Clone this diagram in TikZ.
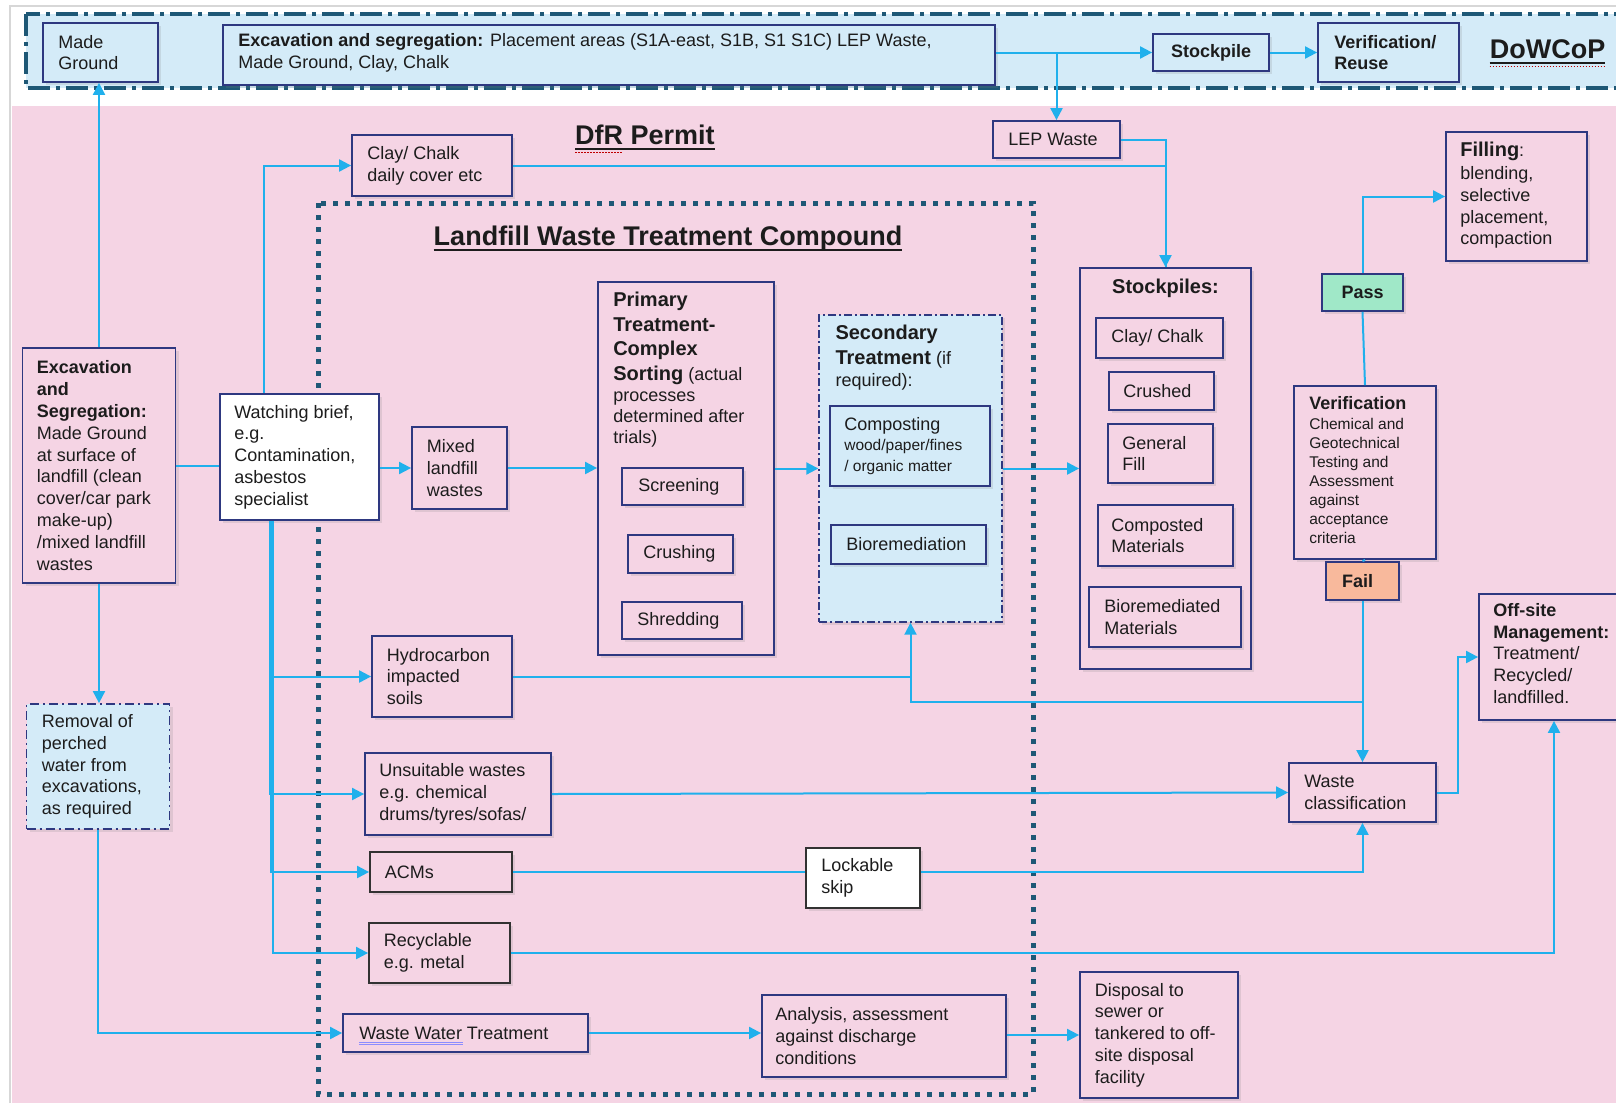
\documentclass[tikz,border=0pt]{standalone}
\usepackage{fontspec}
\setmainfont{Liberation Sans}
\usetikzlibrary{arrows.meta,shadows,calc}
\definecolor{pinkbg}{RGB}{245,212,228}
\definecolor{lblue}{RGB}{212,235,248}
\definecolor{navy}{RGB}{46,56,128}
\definecolor{tealb}{RGB}{30,88,118}
\definecolor{cline}{RGB}{32,176,236}
\definecolor{mint}{RGB}{160,232,200}
\definecolor{salmon}{RGB}{248,185,156}
\definecolor{txtc}{RGB}{28,28,28}
\definecolor{darkb}{RGB}{50,50,50}
\definecolor{framegray}{RGB}{215,215,215}
\newcommand\myfnorm{\fontsize{18}{21.8}\selectfont}
\newcommand\myfsmall{\fontsize{15.5}{19}\selectfont}
\newcommand\myfhead{\fontsize{20}{24}\selectfont\bfseries}
\newcommand\myftitle{\fontsize{27}{32}\selectfont\bfseries}
\tikzset{
  bx/.style={draw=navy, line width=1.8pt, fill=pinkbg, inner sep=0pt,
    drop shadow={shadow xshift=3pt, shadow yshift=-3pt, opacity=0.18}},
  bxblue/.style={bx, fill=lblue},
  bxwhite/.style={bx, fill=white},
  bxdark/.style={bx, draw=darkb},
  dashdot/.style={dash pattern=on 9pt off 4pt on 2pt off 4pt},
  txt/.style={inner sep=0pt, align=left, font=\myfnorm, text=txtc},
  btxt/.style={txt, font=\myfnorm\bfseries},
  ttl/.style={inner sep=0pt, font=\myftitle, text=txtc},
  conn/.style={draw=cline, line width=2pt},
  arr/.style={conn, -{Triangle[length=12pt,width=12pt]}},
  uline/.style={draw=txtc, line width=2pt},
  spell/.style={draw=red!75!black, line width=1.2pt, dash pattern=on 1.5pt off 1.5pt},
}
\begin{document}
\begin{tikzpicture}[x=1pt,y=-1pt]
\useasboundingbox (0,0) rectangle (1616,1103);
% backgrounds
\fill[white] (0,0) rectangle (1616,1103);
\fill[pinkbg] (12,106) rectangle (1616,1103);
\draw[framegray, line width=1.5pt] (10,1103) -- (10,6) -- (1616,6);
\draw[draw=tealb, fill=lblue, line width=3.5pt, dash pattern=on 22pt off 6pt on 4pt off 6pt] (26,14) rectangle (1650,88);
% compound border
\draw[draw=tealb, line width=5pt, dash pattern=on 5pt off 7pt] (318,203) rectangle (1033,1094);

% ---------- top band ----------
\node[bxblue, minimum width=115, minimum height=59] (mg) at (100.5,52.5) {};
\node[txt, anchor=west] (mgt) at ([xshift=16]mg.west) {Made\\Ground};
\node[bxblue, minimum width=772, minimum height=60] (te) at (609,55) {};
\node[txt, anchor=west, font=\fontsize{18}{22.5}\selectfont] (tet) at ([shift={(16,-2)}]te.west)
  {\textbf{Excavation and segregation:} Placement areas (S1A-east, S1B, S1 S1C) LEP Waste,\\Made Ground, Clay, Chalk};
\node[bxblue, minimum width=116, minimum height=37] (sp) at (1211,52.5) {};
\node[btxt] (spt) at (sp) {Stockpile};
\node[bxblue, minimum width=141, minimum height=59] (vr) at (1388.5,52.5) {};
\node[btxt, anchor=west] (vrt) at ([xshift=17]vr.west) {Verification/\\Reuse};
\node[ttl] (dow) at (1547.5,49.5) {DoWCoP};
\draw[uline] ([yshift=-4pt]dow.base west) -- ([yshift=-4pt]dow.base east);
\draw[spell] ([yshift=-7.5pt]dow.base west) -- ([yshift=-7.5pt]dow.base east);

% ---------- titles ----------
\node[ttl] (dfr) at (645,135) {DfR Permit};
\draw[uline] ([yshift=-4pt]dfr.base west) -- ([yshift=-4pt]dfr.base east);
\draw[spell] ([yshift=-7.5pt]dfr.base west) -- ++(48,0);
\node[ttl] (lw) at (668,239) {Landfill Waste Treatment Compound};
\draw[uline] ([yshift=-4pt]lw.base west) -- ([yshift=-4pt]lw.base east);

% ---------- upper middle ----------
\node[bx, minimum width=160, minimum height=61] (cd) at (432,165.5) {};
\node[txt, anchor=west] (cdt) at ([xshift=16]cd.west) {Clay/ Chalk\\daily cover etc};
\node[bx, minimum width=127, minimum height=37] (lep) at (1056.5,139.5) {};
\node[txt, anchor=west] (lept) at ([xshift=16]lep.west) {LEP Waste};

% ---------- left ----------
\node[bx, minimum width=153, minimum height=235] (ex) at (99,465.5) {};
\node[txt, anchor=west] (ext) at ([xshift=15]ex.west)
  {\textbf{Excavation}\\\textbf{and}\\\textbf{Segregation:}\\Made Ground\\at surface of\\landfill (clean\\cover/car park\\make-up)\\/mixed landfill\\wastes};
\node[bxblue, dashdot, minimum width=143, minimum height=125] (rm) at (98,766.5) {};
\node[txt, anchor=west] (rmt) at ([xshift=16]rm.west) {Removal of\\perched\\water from\\excavations,\\as required};
\node[bxwhite, minimum width=159, minimum height=126] (wb) at (299.5,457) {};
\node[txt, anchor=west] (wbt) at ([xshift=15]wb.west) {Watching brief,\\e.g.\\Contamination,\\asbestos\\specialist};
\node[bx, minimum width=95, minimum height=82] (mx) at (459.5,468) {};
\node[txt, anchor=west] (mxt) at ([xshift=15.5]mx.west) {Mixed\\landfill\\wastes};

% ---------- primary ----------
\node[bx, minimum width=176, minimum height=373] (pt) at (686,468.5) {};
\node[txt, anchor=north west, font=\fontsize{18}{21}\selectfont] (ptt) at ([shift={(16,11)}]pt.north west)
  {{\myfhead Primary}\\[3.5pt]{\myfhead Treatment-}\\[3.5pt]{\myfhead Complex}\\[3.5pt]{\myfhead Sorting} (actual\\processes\\determined after\\trials)};
\node[bx, minimum width=121, minimum height=37] (sc) at (682.5,486.5) {};
\node[txt, anchor=west] (sct) at ([xshift=17]sc.west) {Screening};
\node[bx, minimum width=105, minimum height=38] (cr) at (680.5,554) {};
\node[txt, anchor=west] (crt) at ([xshift=16]cr.west) {Crushing};
\node[bx, minimum width=120, minimum height=37] (sh) at (682,620.5) {};
\node[txt, anchor=west] (sht) at ([xshift=16]sh.west) {Shredding};

% ---------- secondary ----------
\node[bxblue, line width=1.4pt, dash pattern=on 8pt off 3pt on 2pt off 3pt, minimum width=183, minimum height=307] (st) at (910.5,468.5) {};
\node[txt, anchor=north west, font=\fontsize{18}{22}\selectfont] (stt) at ([shift={(17,11)}]st.north west)
  {{\myfhead Secondary}\\[2.5pt]{\myfhead Treatment} (if\\required):};
\node[bxblue, minimum width=160, minimum height=80] (cp) at (910,446) {};
\node[txt, anchor=west, font=\fontsize{15.5}{20.6}\selectfont] (cpt) at ([xshift=15]cp.west) {{\myfnorm Composting}\\wood/paper/fines\\/ organic matter};
\node[bxblue, minimum width=155, minimum height=39] (bi) at (908.5,544.5) {};
\node[txt, anchor=west] (bit) at ([xshift=16]bi.west) {Bioremediation};

% ---------- stockpiles ----------
\node[bx, minimum width=171, minimum height=401] (sk) at (1165.5,468.5) {};
\node[txt, font=\myfhead] (skt) at ([shift={(0,21)}]sk.north) {Stockpiles:};
\node[bx, minimum width=127, minimum height=40] (s1) at (1159.5,338) {};
\node[txt, anchor=west] (s1t) at ([xshift=16]s1.west) {Clay/ Chalk};
\node[bx, minimum width=105, minimum height=38] (s2) at (1161.5,391) {};
\node[txt, anchor=west] (s2t) at ([xshift=15]s2.west) {Crushed};
\node[bx, minimum width=105, minimum height=59] (s3) at (1160.5,453.5) {};
\node[txt, anchor=west] (s3t) at ([xshift=15]s3.west) {General\\Fill};
\node[bx, minimum width=135, minimum height=61] (s4) at (1165.5,535.5) {};
\node[txt, anchor=west] (s4t) at ([xshift=14]s4.west) {Composted\\Materials};
\node[bx, minimum width=152, minimum height=60] (s5) at (1165,617) {};
\node[txt, anchor=west] (s5t) at ([xshift=16]s5.west) {Bioremediated\\Materials};

% ---------- right ----------
\node[bx, minimum width=141, minimum height=129] (fl) at (1516.5,196.5) {};
\node[txt, anchor=north west] (flt) at ([shift={(15,11)}]fl.north west) {{\myfhead Filling}:\\[1pt]blending,\\selective\\placement,\\compaction};
\node[bx, fill=mint, minimum width=81, minimum height=37] (ps) at (1362.5,292.5) {};
\node[btxt] (pst) at (ps) {Pass};
\node[bx, minimum width=142, minimum height=173] (vf) at (1365,472.5) {};
\node[txt, anchor=north west, font=\myfsmall] (vft) at ([shift={(16,11)}]vf.north west)
  {{\myfnorm\bfseries Verification}\\[1.5pt]Chemical and\\Geotechnical\\Testing and\\Assessment\\against\\acceptance\\criteria};
\node[bx, fill=salmon, minimum width=73, minimum height=38] (fa) at (1362.5,581) {};
\node[btxt] (fat) at ([xshift=-5]fa.center) {Fail};
\node[bx, minimum width=150, minimum height=126] (of) at (1554,657) {};
\node[txt, anchor=north west] (oft) at ([shift={(15,10)}]of.north west)
  {\textbf{Off-site}\\\textbf{Management:}\\Treatment/\\Recycled/\\landfilled.};
\node[bx, minimum width=147, minimum height=59] (wc) at (1362.5,792.5) {};
\node[txt, anchor=west] (wct) at ([xshift=16]wc.west) {Waste\\classification};

% ---------- lower ----------
\node[bx, minimum width=140, minimum height=81] (hy) at (442,676.5) {};
\node[txt, anchor=west] (hyt) at ([xshift=15.5]hy.west) {Hydrocarbon\\impacted\\soils};
\node[bx, minimum width=186, minimum height=82] (un) at (458,794) {};
\node[txt, anchor=west] (unt) at ([xshift=15]un.west) {Unsuitable wastes\\e.g. chemical\\drums/tyres/sofas/};
\node[bxdark, minimum width=142, minimum height=40] (ac) at (441,872) {};
\node[txt, anchor=west] (act) at ([xshift=15.5]ac.west) {ACMs};
\node[bxdark, minimum width=141, minimum height=60] (rc) at (439.5,953) {};
\node[txt, anchor=west] (rct) at ([xshift=15.5]rc.west) {Recyclable\\e.g. metal};
\node[bx, minimum width=245, minimum height=38] (ww) at (465.5,1033) {};
\node[txt, anchor=west] (wwt) at ([xshift=17]ww.west) {Waste Water Treatment};
\draw[draw=blue!45, line width=0.8pt] ([yshift=-3pt]wwt.base west) -- ++(104,0);
\draw[draw=blue!45, line width=0.8pt] ([yshift=-5.5pt]wwt.base west) -- ++(104,0);
\node[bxwhite, draw=darkb, minimum width=114, minimum height=60] (lk) at (863,878) {};
\node[txt, anchor=west] (lkt) at ([xshift=16]lk.west) {Lockable\\skip};
\node[bx, minimum width=244, minimum height=82] (an) at (884,1036) {};
\node[txt, anchor=west] (ant) at ([xshift=14]an.west) {Analysis, assessment\\against discharge\\conditions};
\node[bx, minimum width=158, minimum height=126] (dp) at (1159,1035) {};
\node[txt, anchor=west] (dpt) at ([xshift=15.5]dp.west) {Disposal to\\sewer or\\tankered to off-\\site disposal\\facility};

% ---------- connectors ----------
\draw[arr] (te.east |- sp.west) -- (sp.west);
\draw[arr] (sp.east) -- (vr.west |- sp.east);
\draw[arr] (lep.north |- sp.west) -- (lep.north);
\draw[arr] (ex.north) -- (ex.north |- mg.south);
\draw[arr] (ex.south) -- (ex.south |- rm.north);
\draw[arr] (rm.south) |- (ww.west);
\draw[conn] (ex.east) -- (ex.east -| wb.west);
\draw[arr] (wb.east |- mx.west) -- (mx.west);
\draw[arr] (mx.east) -- (mx.east -| pt.west);
\draw[arr] (pt.east) -- (st.west);
\draw[arr] (st.east) -- (sk.west);
\draw[arr] ([xshift=-35.5]wb.north) |- (cd.west);
\draw[arr] (cd.east) -| (sk.north);
\draw[conn] (lep.east) -| (sk.north);
\draw[arr] ([xshift=-30]wb.south) |- (un.west);
\draw[arr] ([xshift=-27]wb.south) |- (rc.west);
\draw[arr] ([xshift=-28.5]wb.south) |- (hy.west);
\draw[arr] ([xshift=-28.5]wb.south) |- (ac.west);
\draw[conn] (hy.east) -- (hy.east -| st.south);
\coordinate (fj) at (1362.5,702);
\draw[arr] (fj) -| (st.south);
\draw[arr] (fa.south) -- (wc.north);
\draw[conn] (vf.north) -- (ps.south);
\draw[conn] (vf.south) -- (fa.north);
\draw[arr] (ps.north) |- (fl.west);
\draw[arr] (un.east) -- (wc.west);
\draw[conn] (ac.east) -- (ac.east -| lk.west);
\draw[arr] (lk.east |- ac.east) -| (wc.south);
\draw[arr] (rc.east) -| (of.south);
\draw[arr] (wc.east) -- ++(21,0) |- (of.west);
\draw[arr] (ww.east) -- (ww.east -| an.west);
\draw[arr] (an.east |- dp.west) -- (dp.west);
\end{tikzpicture}
\end{document}
